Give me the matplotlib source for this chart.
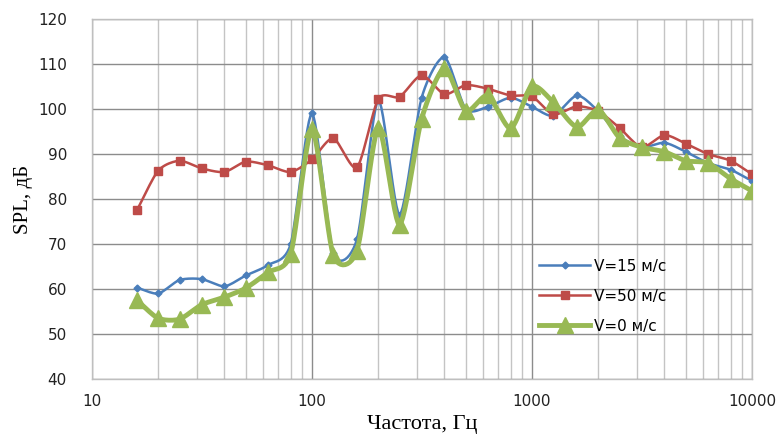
import numpy as np
from matplotlib import pyplot as plt
from matplotlib.ticker import FixedLocator, NullFormatter

freq = [16, 20, 25, 31.5, 40, 50, 63, 80, 100, 125, 160, 200, 250, 315, 400,
        500, 630, 800, 1000, 1250, 1600, 2000, 2500, 3150, 4000, 5000, 6300, 8000, 10000]

spl_v15 = [60.3, 59.0, 62.0, 62.2, 60.6, 63.0, 65.3, 70.0, 99.0, 68.0, 71.0, 102.0, 76.5, 102.5, 111.5,
           100.0, 100.5, 102.5, 100.5, 98.5, 103.0, 99.5, 94.0, 91.5, 92.5, 90.5, 88.0, 86.5, 84.0]
spl_v50 = [77.5, 86.3, 88.5, 86.8, 86.0, 88.3, 87.5, 86.0, 88.8, 93.5, 87.0, 102.2, 102.7, 107.5, 103.3,
           105.3, 104.5, 103.0, 102.8, 98.8, 100.6, 99.5, 95.8, 91.5, 94.2, 92.3, 90.0, 88.5, 85.5]
spl_v0 = [57.5, 53.5, 53.3, 56.5, 58.2, 60.2, 63.7, 67.8, 95.5, 67.5, 68.5, 95.8, 74.3, 97.8, 109.0,
          99.6, 103.0, 95.7, 105.0, 101.5, 96.0, 99.8, 93.6, 91.5, 90.5, 88.5, 88.0, 84.5, 81.8]

labels = ["V=15 м/с", "V=50 м/с", "V=0 м/с"]


def smooth(x, y, n=12, k=0.75):
    # Hermite curve through the points (like Excel "smoothed line"), in log-x
    lx = np.log10(x)
    y = np.asarray(y, float)
    t = np.linspace(0, 1, n, endpoint=False)
    h00 = 2 * t ** 3 - 3 * t ** 2 + 1
    h10 = t ** 3 - 2 * t ** 2 + t
    h01 = -2 * t ** 3 + 3 * t ** 2
    h11 = t ** 3 - t ** 2
    xs, ys = [], []
    for arr, out in ((lx, xs), (y, ys)):
        m = np.gradient(arr) * k
        m[0] = (arr[1] - arr[0]) * k
        m[-1] = (arr[-1] - arr[-2]) * k
        for i in range(len(arr) - 1):
            out.extend(h00 * arr[i] + h10 * m[i] + h01 * arr[i + 1] + h11 * m[i + 1])
        out.append(arr[-1])
    return 10 ** np.array(xs), np.array(ys)


fig = plt.figure(figsize=(7.78, 4.36), dpi=100)
ax = fig.add_axes([92 / 778, 1 - 379 / 436, (752 - 92) / 778, (379 - 19) / 436])

blue = "#4a7ebb"
red = "#be4b48"
green = "#98b954"

x, y = smooth(freq, spl_v15)
ax.plot(x, y, color=blue, lw=1.8, zorder=3)
ax.plot(freq, spl_v15, ls="none", marker="D", ms=3.5, color=blue, zorder=4)
x, y = smooth(freq, spl_v50)
ax.plot(x, y, color=red, lw=1.8, zorder=3)
ax.plot(freq, spl_v50, ls="none", marker="s", ms=6, color=red, zorder=4)
x, y = smooth(freq, spl_v0)
ax.plot(x, y, color=green, lw=3.5, zorder=5)
ax.plot(freq, spl_v0, ls="none", marker="^", ms=11, color=green, zorder=6)

# legend proxies
h1, = ax.plot([], [], color=blue, lw=1.8, marker="D", ms=3.5)
h2, = ax.plot([], [], color=red, lw=1.8, marker="s", ms=6)
h3, = ax.plot([], [], color=green, lw=3.5, marker="^", ms=11)
ax.legend([h1, h2, h3], labels, loc="upper left", bbox_to_anchor=(0.657, 0.372),
          frameon=False, fontsize=11, handlelength=3.3, labelspacing=0.98, handletextpad=0.25)

ax.set_xscale("log")
ax.set_xlim(10, 10000)
ax.set_ylim(40, 120)
ax.set_yticks(range(40, 121, 10))
ax.set_xticks([10, 100, 1000, 10000])
ax.set_xticklabels(["10", "100", "1000", "10000"])
ax.xaxis.set_minor_locator(FixedLocator([m * 10 ** k for k in range(1, 4) for m in range(2, 10)]))
ax.xaxis.set_minor_formatter(NullFormatter())
ax.tick_params(which="both", length=0, labelsize=11, colors="#222222")
ax.tick_params(axis="x", pad=11)
ax.tick_params(axis="y", pad=18)

ax.grid(which="major", axis="y", color="#8c8c8c", lw=1.0)
ax.grid(which="major", axis="x", color="#8c8c8c", lw=1.0)
ax.grid(which="minor", axis="x", color="#c4c4c4", lw=1.0)
ax.set_axisbelow(True)
for s in ax.spines.values():
    s.set_color("#bfbfbf")
    s.set_linewidth(1.0)

ax.set_xlabel("Частота, Гц", family="Liberation Serif", fontsize=16, labelpad=4)
ax.set_ylabel("SPL, дБ", family="Liberation Serif", fontsize=15, labelpad=4)

fig.savefig("out.png", dpi=100)
